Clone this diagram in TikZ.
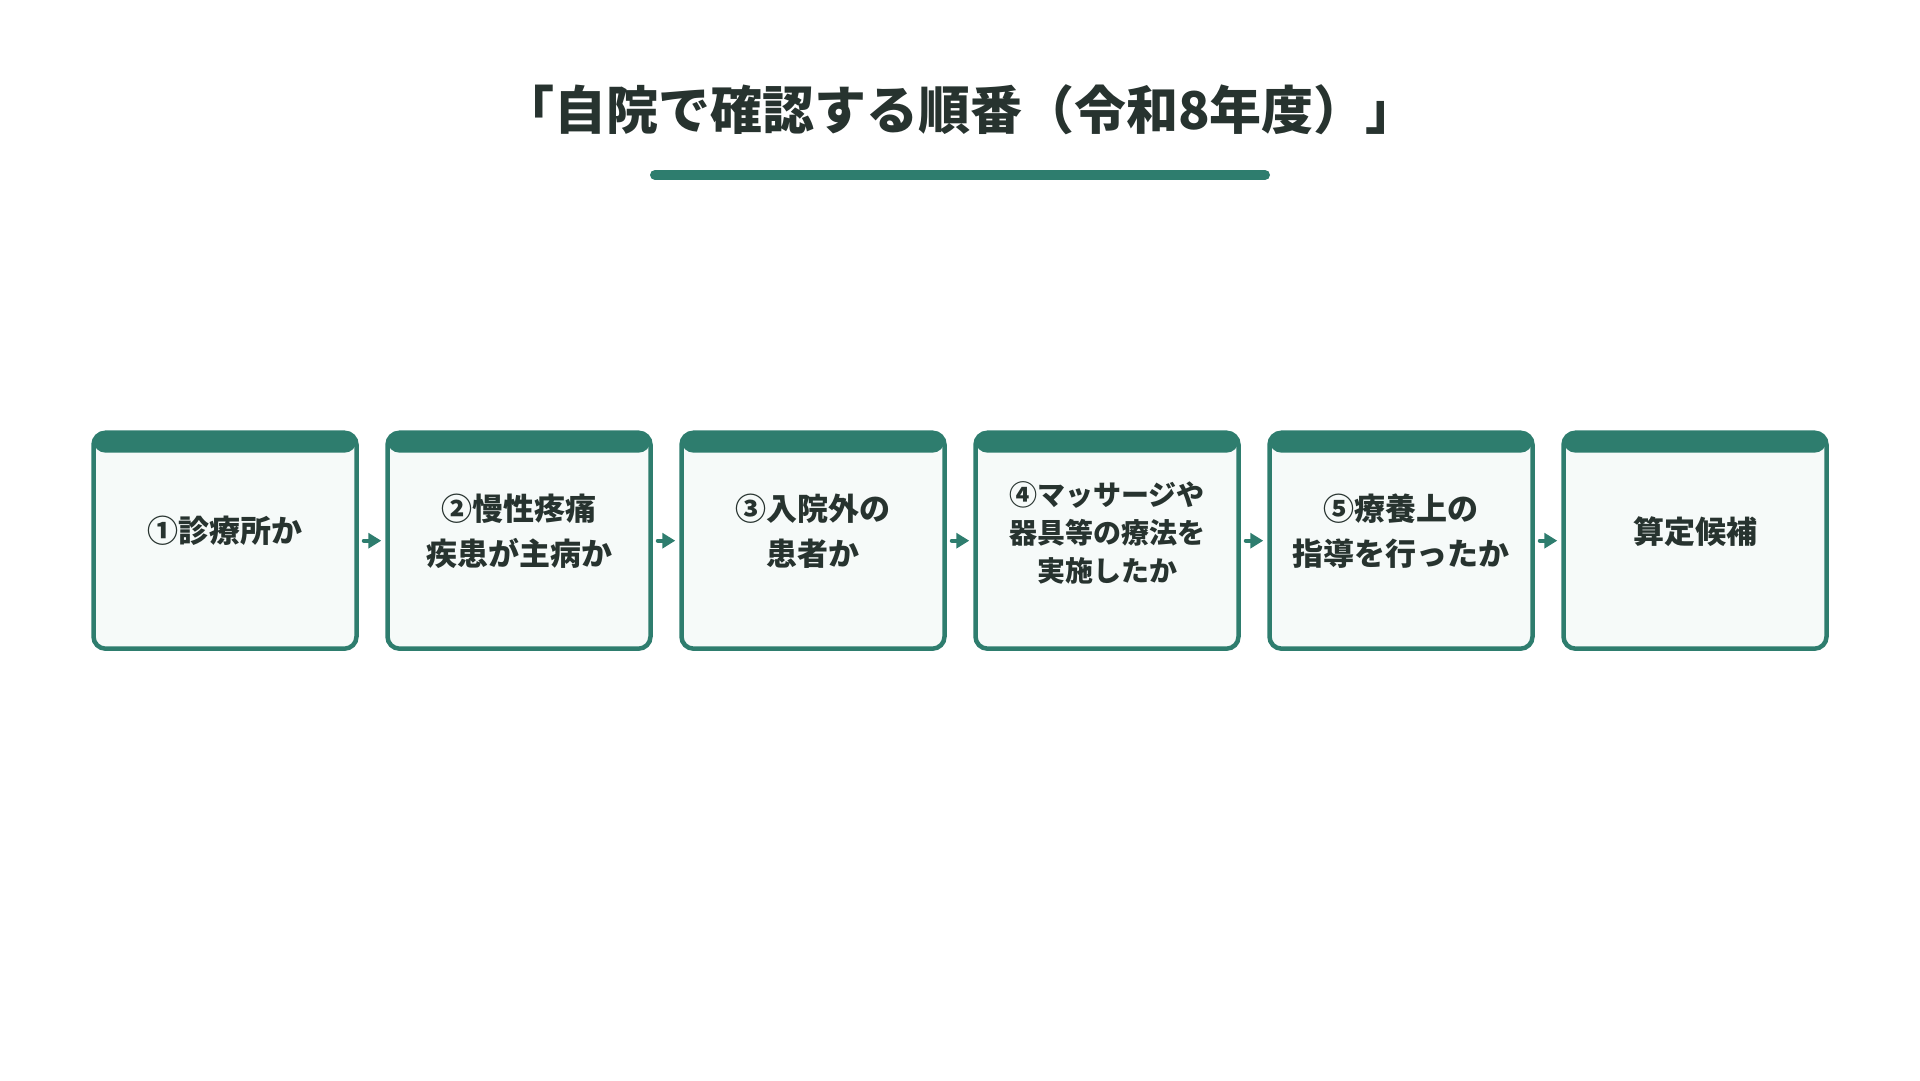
\documentclass[tikz,border=0pt]{standalone}
\usepackage{fontspec}
\setmainfont{Noto Sans CJK JP}
\usetikzlibrary{positioning,arrows.meta}
\definecolor{groen}{HTML}{2E7D6E}
\definecolor{vakvulling}{HTML}{F6FAF9}
\definecolor{tekst}{HTML}{27332F}

\begin{document}
\begin{tikzpicture}[x=1pt, y=1pt, line cap=round,
  vak/.style={draw=groen, line width=4.5pt, fill=vakvulling, rounded corners=12pt,
    minimum width=263pt, minimum height=216pt, inner sep=0pt,
    path picture={\fill[groen] (path picture bounding box.north west)
      rectangle ([yshift=-20pt]path picture bounding box.north east);}},
  vaktekst/.style={text=tekst, align=center, font=\bfseries\fontsize{31}{45}\selectfont},
  pijl/.style={groen, line width=4pt, -{Triangle[length=13pt,width=15pt]},
    shorten <=5pt, shorten >=4pt}]
  \useasboundingbox (0,0) rectangle (1920,1080);

  % titel
  \node[text=tekst, font=\bfseries\fontsize{52}{60}\selectfont] (titel) at (960,970)
    {「自院で確認する順番（令和8年度）」};
  \coordinate (streepL) at (655,905);
  \coordinate (streepR) at (1265,905);
  \draw[groen, line width=10pt] (streepL) -- (streepR);

  % vakken
  \node[vak] (b1) at (225,539.3) {};
  \node[vak, right=26.5pt of b1] (b2) {};
  \node[vak, right=26.5pt of b2] (b3) {};
  \node[vak, right=26.5pt of b3] (b4) {};
  \node[vak, right=26.5pt of b4] (b5) {};
  \node[vak, right=26.5pt of b5] (b6) {};

  % teksten
  \node[vaktekst] (t1) at ([yshift=9.5pt]b1.center) {①診療所か};
  \node[vaktekst] (t2) at ([yshift=9.5pt]b2.center) {②慢性疼痛\\疾患が主病か};
  \node[vaktekst] (t3) at ([yshift=9.5pt]b3.center) {③入院外の\\患者か};
  \node[vaktekst, font=\bfseries\fontsize{28}{38}\selectfont] (t4) at ([yshift=8pt]b4.center)
    {④マッサージや\\器具等の療法を\\実施したか};
  \node[vaktekst] (t5) at ([yshift=9.5pt]b5.center) {⑤療養上の\\指導を行ったか};
  \node[vaktekst] (t6) at ([yshift=9.5pt]b6.center) {算定候補};

  % pijlen
  \draw[pijl] (b1.east) -- (b2.west);
  \draw[pijl] (b2.east) -- (b3.west);
  \draw[pijl] (b3.east) -- (b4.west);
  \draw[pijl] (b4.east) -- (b5.west);
  \draw[pijl] (b5.east) -- (b6.west);
\end{tikzpicture}
\end{document}
